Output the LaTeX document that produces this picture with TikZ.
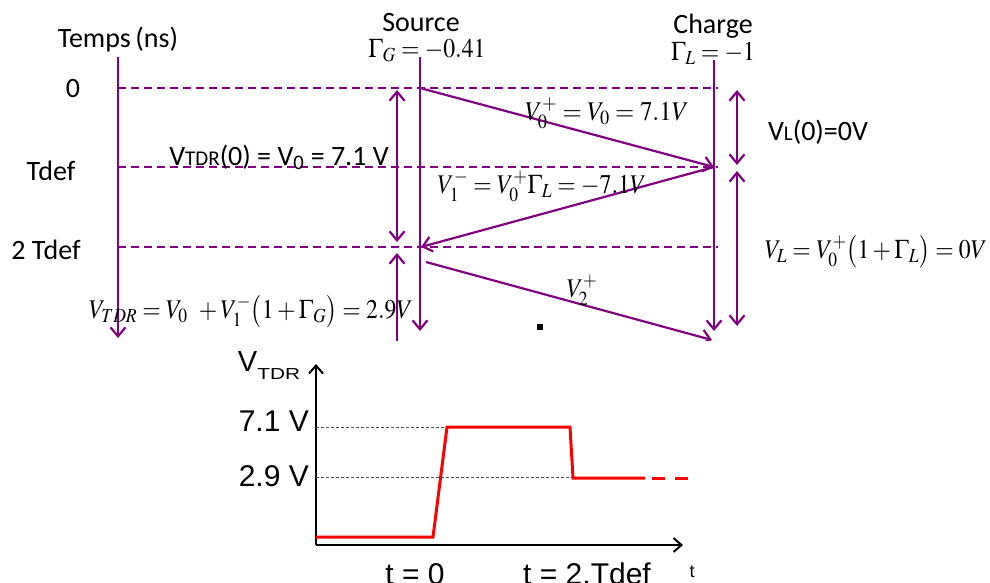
\documentclass[tikz,border=0pt]{standalone}
\usepackage{mathptmx}
\usepackage[no-math]{fontspec}
\setmainfont{Liberation Serif}
\setsansfont{Carlito}
\newfontfamily\arialfont{Liberation Sans}
\usetikzlibrary{arrows.meta}
\definecolor{wpurple}{HTML}{800080}
\definecolor{wred}{HTML}{FF0000}
\tikzset{
  >={Straight Barb[length=9pt,width=15pt]},
  wire/.style={draw=wpurple, line width=2.2pt},
  tline/.style={draw=wpurple, line width=2.2pt, dash pattern=on 8pt off 5pt},
  lab/.style={font=\fontsize{28}{32}\selectfont\sffamily, inner sep=0pt},
  eq/.style={font=\fontsize{27}{30}\selectfont, inner sep=0pt},
  glab/.style={font=\fontsize{30}{34}\selectfont\arialfont, inner sep=0pt},
  axis/.style={draw=black, line width=2pt, -{Straight Barb[length=8pt,width=14pt]}},
  guide/.style={draw=black!70, line width=0.7pt, dash pattern=on 3pt off 2pt},
  trace/.style={draw=wred, line width=3pt}
}
\newcommand{\smallcap}[1]{{\fontsize{21}{24}\selectfont #1}}
\newcommand{\eqn}[2][0.88]{\scalebox{#1}[1]{$#2$}}

\begin{document}
\begin{tikzpicture}[x=1pt,y=-1pt]
  \useasboundingbox (0,0) rectangle (990,582);
  \begin{scope}
    \clip (0,0) rectangle (990,340);
    % time axis, source and load lines
    \coordinate (tA) at (118,57);  \coordinate (tB) at (118,338);
    \coordinate (sA) at (420,57);  \coordinate (sB) at (420,331);
    \coordinate (cA) at (714,60);  \coordinate (cB) at (714,331);
    \draw[wire,->] (tA) -- (tB);
    \draw[wire,->] (sA) -- (sB);
    \draw[wire,->] (cA) -- (cB);
    \foreach \y/\n in {88/0,167/1,247/2} {
      \coordinate (h\n a) at (118,\y);
      \coordinate (h\n b) at (718,\y);
      \draw[tline] (h\n a) -- (h\n b);
    }
    % bouncing waves
    \coordinate (s0) at (420,88);  \coordinate (c1) at (714,167);
    \coordinate (s2) at (421,247); \coordinate (s2x) at (426,262);
    \coordinate (c3) at (712,340);
    \draw[wire,->] (s0) -- (c1);
    \draw[wire,->] (c1) -- (s2);
    \draw[wire,->] (s2x) -- (c3);
    % voltage spans
    \coordinate (l1a) at (397,90);  \coordinate (l1b) at (397,242);
    \coordinate (l2a) at (397,253); \coordinate (l2b) at (397,362);
    \coordinate (r1a) at (737,90);  \coordinate (r1b) at (737,165);
    \coordinate (r2a) at (737,171); \coordinate (r2b) at (737,326);
    \draw[wire,<->] (l1a) -- (l1b);
    \draw[wire,<->] (l2a) -- (l2b);
    \draw[wire,<->] (r1a) -- (r1b);
    \draw[wire,<->] (r2a) -- (r2b);
  \end{scope}

  \node[lab,anchor=base] (temps) at (118,47) {Temps\,(ns)};
  \node[lab,anchor=base] (tzero) at (73,97) {0};
  \node[lab,anchor=base] (tdef) at (51,180) {Tdef};
  \node[lab,anchor=base] (ttdef) at (46,259) {2 Tdef};
  \node[lab,anchor=base] (src) at (421,31) {Source};
  \node[eq,anchor=base] (srcg) at (427,57) {\eqn{\Gamma_G = -0.41}};
  \node[lab,anchor=base] (chg) at (713,33) {Charge};
  \node[eq,anchor=base] (chgg) at (713,60) {\eqn{\Gamma_L = -1}};
  \node[eq,anchor=base] (vzero) at (607,120) {\eqn[0.92]{V_0^+ = V_0 = 7.1V}};
  \node[lab,anchor=base] (vtdrz) at (279,165)
    {V\smallcap{TDR}(0) = V\textsubscript{0} = 7.1 V};
  \node[lab,anchor=base] (vlz) at (818,140) {V\smallcap{L}(0)=0V};
  \node[eq,anchor=base] (vone) at (542,193) {\eqn{V_1^- = V_0^+\Gamma_L = -7.1V}};
  \node[eq,anchor=base] (vl) at (876,258) {\eqn{V_L = V_0^+\bigl(1+\Gamma_L\bigr) = 0V}};
  \node[eq,anchor=base] (vtwo) at (582,297) {\eqn{V_2^+}};
  \node[eq,anchor=base] (vtdr) at (251,318)
    {\eqn{V_{TDR} = V_0 \;\, + V_1^-\bigl(1+\Gamma_G\bigr) = 2.9V}};
  \node[fill=black,minimum size=6pt,inner sep=0pt] (dot) at (540,327) {};

  % TDR response
  \coordinate (O) at (316,545);
  \coordinate (yT) at (316,364);
  \coordinate (xT) at (683,545);
  \draw[axis] (O) -- (yT);
  \draw[axis] (O) -- (xT);
  \coordinate (g7a) at (316,427); \coordinate (g7b) at (447,427);
  \coordinate (g2a) at (316,477); \coordinate (g2b) at (572,477);
  \draw[guide] (g7a) -- (g7b);
  \draw[guide] (g2a) -- (g2b);
  \draw[trace] (316,537) -- (433,537) -- (447,427) -- (570,427)
    -- (573,478) -- (645,478);
  \draw[trace,dash pattern=on 13pt off 10pt] (652,478) -- (688,478);

  \node[glab,anchor=base] (vaxis) at (269,371)
    {{\fontsize{29}{34}\selectfont V}\raisebox{-8pt}{\scalebox{1.3}[1]{\fontsize{16}{18}\selectfont TDR}}};
  \node[glab,anchor=base east] (seven) at (309,431) {7.1 V};
  \node[glab,anchor=base east] (twonine) at (309,486) {2.9 V};
  \node[glab,anchor=base] (tz) at (415,584) {t = 0};
  \node[glab,anchor=base] (t2) at (587,584) {t = 2.Tdef};
  \node[glab,anchor=base,font=\fontsize{18}{20}\selectfont\arialfont] (tlab) at (692,577) {t};
\end{tikzpicture}
\end{document}
